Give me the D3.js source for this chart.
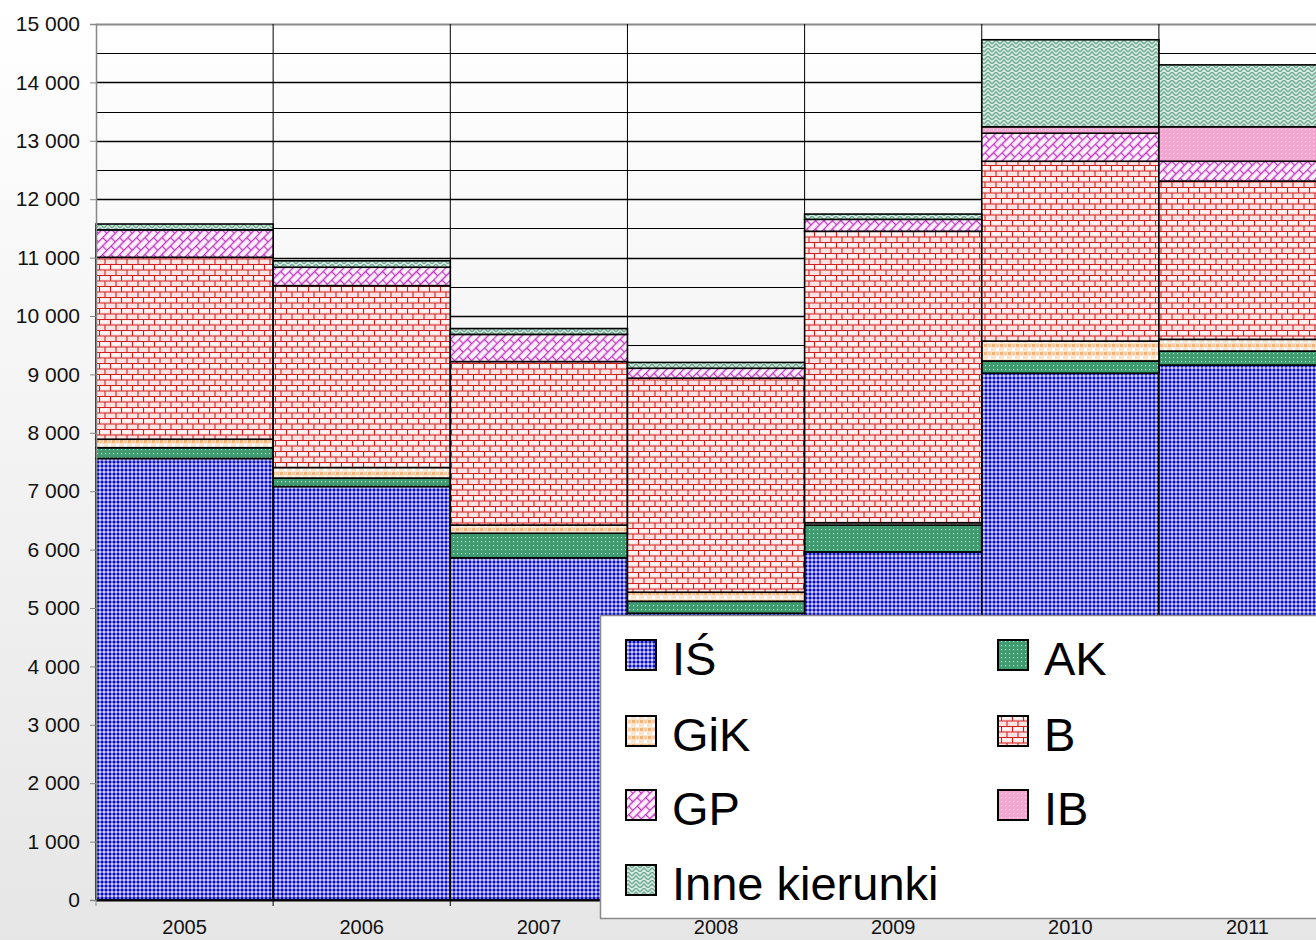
<!DOCTYPE html>
<html>
<head>
<meta charset="utf-8">
<script src="https://cdn.jsdelivr.net/npm/d3@7"></script>
<style>
  body { margin: 0; overflow: hidden; }
  svg { display: block; font-family: "Liberation Sans", Arial, sans-serif; }
</style>
</head>
<body>
<svg></svg>
<script>
// data
const years = ["2005", "2006", "2007", "2008", "2009", "2010", "2011"]
const seriesNames = ["IŚ", "AK", "GiK", "B", "GP", "IB", "Inne kierunki"]
const valIS   = [7560, 7080, 5860, 4910, 5960, 9020, 9160]
const valAK   = [185, 145, 420, 205, 460, 210, 240]
const valGiK  = [145, 180, 140, 155, 40, 340, 200]
const valB    = [3115, 3115, 2800, 3665, 4990, 3080, 2710]
const valGP   = [470, 315, 465, 170, 205, 480, 340]
const valIB   = [0, 0, 0, 0, 0, 110, 590]
const valInne = [100, 110, 100, 100, 90, 1490, 1060]
const yTicks  = [0, 1000, 2000, 3000, 4000, 5000, 6000, 7000, 8000, 9000, 10000, 11000, 12000, 13000, 14000, 15000]

const allValues = [valIS, valAK, valGiK, valB, valGP, valIB, valInne]

const w = 1316
const h = 940
const plotLeft = 96
const plotTop = 24
const plotBottom = 900
const band = 177.15
const fontFam = "'Liberation Sans', Arial, sans-serif"

const svg = d3.select("svg")
    .attr("width", w)
    .attr("height", h)

const defs = svg.append("defs")

//Background gradient
const bg = defs.append("linearGradient")
    .attr("id", "bg")
    .attr("x1", 0).attr("y1", 0).attr("x2", 0).attr("y2", 1)
bg.append("stop").attr("offset", "0%").attr("stop-color", "#ffffff")
bg.append("stop").attr("offset", "100%").attr("stop-color", "#e6e6e6")

svg.append("rect")
    .attr("width", w)
    .attr("height", h)
    .attr("fill", "url(#bg)")

//Patterns
function makePattern(id, size, bgColor, draw, transform){
    const p = defs.append("pattern")
        .attr("id", id)
        .attr("patternUnits", "userSpaceOnUse")
        .attr("width", size[0])
        .attr("height", size[1])
    if (transform) p.attr("patternTransform", transform)
    p.append("rect")
        .attr("width", size[0])
        .attr("height", size[1])
        .attr("fill", bgColor)
    draw(p)
}

// IŚ - blue balls
makePattern("pIS", [4, 4], "#e4e4ff", p => {
    p.append("circle").attr("cx", 2).attr("cy", 2).attr("r", 1.75).attr("fill", "#1818d8")
    p.append("circle").attr("cx", 2.3).attr("cy", 2.3).attr("r", 0.8).attr("fill", "#0000a0")
})

// AK - green with small dots
makePattern("pAK", [4, 4], "#3f9a70", p => {
    p.append("rect").attr("x", 1).attr("y", 1).attr("width", 1.2).attr("height", 1.2).attr("fill", "#b5e0c8")
})

// GiK - peach checks
makePattern("pGiK", [8, 8], "#fbe4cc", p => {
    p.append("rect").attr("x", 0).attr("y", 0).attr("width", 3).attr("height", 3).attr("fill", "#f5b27a")
    p.append("rect").attr("x", 4).attr("y", 4).attr("width", 3).attr("height", 3).attr("fill", "#ffffff")
    p.append("rect").attr("x", 4).attr("y", 0).attr("width", 3).attr("height", 3).attr("fill", "#f8caa0")
})

// B - red bricks
makePattern("pB", [11, 11], "#fde2e2", p => {
    p.append("rect").attr("x", 1.5).attr("y", 1.5).attr("width", 8).attr("height", 2.5).attr("fill", "#fff6f6")
    p.append("path")
        .attr("d", "M0,0.5H11M0,6H11M0.5,0V6M6,6V11")
        .attr("stroke", "#d22020")
        .attr("stroke-width", 1.1)
        .attr("fill", "none")
})

// GP - magenta diagonal bricks
makePattern("pGP", [12, 12], "#fcf0fc", p => {
    p.append("path")
        .attr("d", "M0,0.5H12M0,6.5H12M0.5,0V6.5M6.5,6.5V12")
        .attr("stroke", "#c038c0")
        .attr("stroke-width", 1.3)
        .attr("fill", "none")
}, "rotate(-45)")

// IB - pink with dots
makePattern("pIB", [4, 4], "#f3a6cf", p => {
    p.append("rect").attr("x", 1).attr("y", 1).attr("width", 1.2).attr("height", 1.2).attr("fill", "#fde6f2")
})

// Inne kierunki - teal herringbone
makePattern("pInne", [8, 8], "#d6ebe2", p => {
    p.append("path")
        .attr("d", "M0,4L4,0L8,4M0,8L4,4L8,8")
        .attr("stroke", "#6fa893")
        .attr("stroke-width", 1.4)
        .attr("fill", "none")
})

const patternIds = ["pIS", "pAK", "pGiK", "pB", "pGP", "pIB", "pInne"]

//Scales
const xScale = d3.scaleBand()
    .domain(years)
    .range([plotLeft, plotLeft + band * years.length])
    .paddingInner(0)
    .paddingOuter(0)

const yScale = d3.scaleLinear()
    .domain([0, 15000])
    .range([plotBottom, plotTop])

const locale = d3.formatLocale({ decimal: ",", thousands: " ", grouping: [3], currency: ["", ""] })
const formatNum = locale.format(",")

//Gridlines
const gridValues = d3.range(500, 15001, 500)
svg.append("g")
    .selectAll("line")
    .data(gridValues)
    .enter()
    .append("line")
    .attr("x1", plotLeft)
    .attr("x2", w)
    .attr("y1", d => Math.round(yScale(d)) + 0.5)
    .attr("y2", d => Math.round(yScale(d)) + 0.5)
    .attr("stroke", d => d === 15000 ? "#8a8a8a" : "#000")
    .attr("stroke-width", d => d === 15000 ? 2 : (d % 1000 === 0 ? 1.6 : 1))

// vertical lines between categories
svg.append("g")
    .selectAll("line")
    .data(years.slice(1))
    .enter()
    .append("line")
    .attr("x1", d => xScale(d))
    .attr("x2", d => xScale(d))
    .attr("y1", plotTop)
    .attr("y2", plotBottom + 6)
    .attr("stroke", "#000")
    .attr("stroke-width", 1)

//Stacked bars
const table = years.map((y, i) => {
    const row = { year: y }
    seriesNames.forEach((s, j) => row[s] = allValues[j][i])
    return row
})

const stacked = d3.stack().keys(seriesNames)(table)

stacked.forEach((layer, j) => {
    svg.append("g")
        .selectAll("rect")
        .data(layer.filter(d => d[1] - d[0] > 0))
        .enter()
        .append("rect")
        .attr("x", d => xScale(d.data.year))
        .attr("width", xScale.bandwidth())
        .attr("y", d => yScale(d[1]))
        .attr("height", d => yScale(d[0]) - yScale(d[1]))
        .attr("fill", `url(#${patternIds[j]})`)
        .attr("stroke", "#000")
        .attr("stroke-width", 1.6)
})

//Axes
const leftAxis = d3.axisLeft(yScale)
    .tickValues(yTicks)
    .tickFormat(d => formatNum(d))
    .tickSize(6)
    .tickPadding(10)

const yAxisG = svg.append("g")
    .attr("transform", `translate(${plotLeft}, 0)`)
    .call(leftAxis)
yAxisG.select(".domain").attr("stroke", "#888").attr("stroke-width", 1.5)
yAxisG.selectAll(".tick line").attr("stroke", "#888")
yAxisG.selectAll("text")
    .attr("font-size", 21)
    .attr("fill", "#111")
    .attr("font-family", fontFam)

const bottomAxis = d3.axisBottom(xScale)
    .tickSize(0)
    .tickPadding(20)

const xAxisG = svg.append("g")
    .attr("transform", `translate(0, ${plotBottom})`)
    .call(bottomAxis)
xAxisG.select(".domain").attr("stroke", "#000").attr("stroke-width", 2)
xAxisG.selectAll("text")
    .attr("font-size", 20)
    .attr("fill", "#111")
    .attr("font-family", fontFam)

// small tick at the left edge
svg.append("line")
    .attr("x1", plotLeft).attr("x2", plotLeft)
    .attr("y1", plotBottom).attr("y2", plotBottom + 6)
    .attr("stroke", "#888")

//Legend
const legend = svg.append("g").attr("id", "legend")

legend.append("rect")
    .attr("x", 600.5)
    .attr("y", 615.5)
    .attr("width", 800)
    .attr("height", 303)
    .attr("fill", "#fff")
    .attr("stroke", "#8a8a8a")
    .attr("stroke-width", 1.5)

const colX = [626, 998]
const rowY = [655, 731, 805, 880]

seriesNames.forEach((s, j) => {
    const cx = colX[j % 2]
    const cy = rowY[Math.floor(j / 2)]
    legend.append("rect")
        .attr("x", cx)
        .attr("y", cy - 15)
        .attr("width", 30)
        .attr("height", 30)
        .attr("fill", `url(#${patternIds[j]})`)
        .attr("stroke", "#000")
        .attr("stroke-width", 2)
    legend.append("text")
        .attr("x", cx + 46)
        .attr("y", cy + 20)
        .attr("font-size", 47)
        .attr("font-family", fontFam)
        .attr("fill", "#000")
        .text(s)
})
</script>
</body>
</html>
